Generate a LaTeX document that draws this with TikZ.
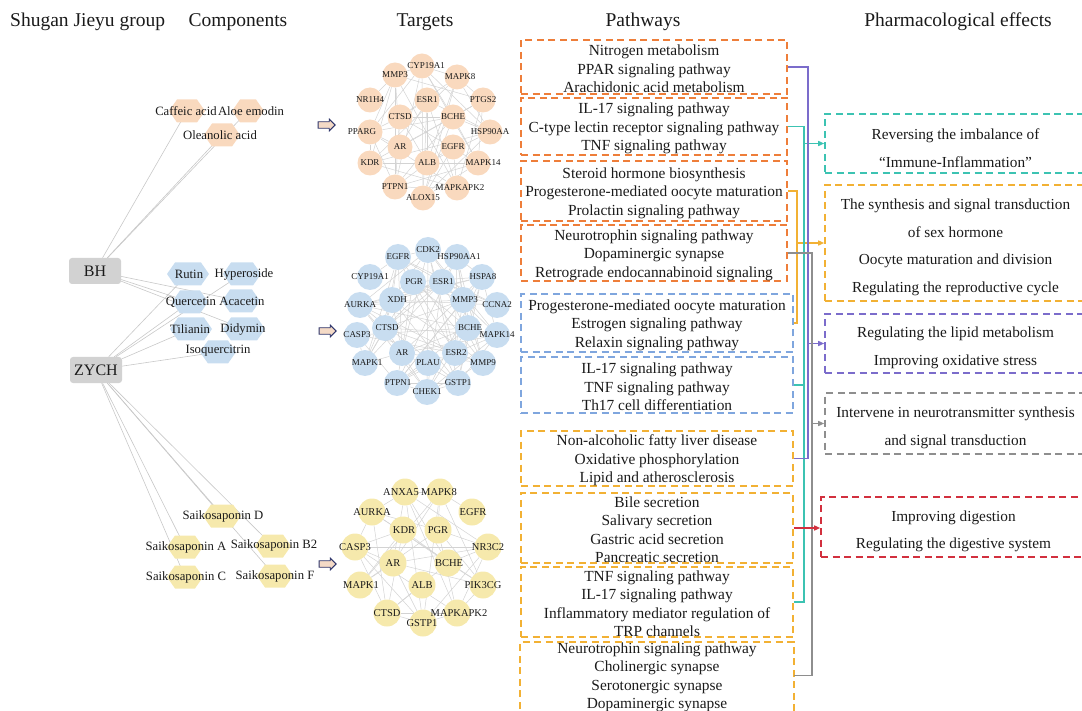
\documentclass[tikz,border=0pt]{standalone}
\usepackage{fontspec}
\setmainfont{Liberation Serif}
\usetikzlibrary{arrows.meta,shapes.arrows,backgrounds}

% palette
\definecolor{peach}{HTML}{F9D9BE}
\definecolor{skyb}{HTML}{C8DDF0}
\definecolor{straw}{HTML}{F6E9AC}
\definecolor{boxorange}{HTML}{EE7E3A}
\definecolor{boxblue}{HTML}{7FA6DE}
\definecolor{boxgold}{HTML}{F2B134}
\definecolor{lnteal}{HTML}{3CC3B2}
\definecolor{lnpurple}{HTML}{7B6CCB}
\definecolor{lngray}{HTML}{8E8E8E}
\definecolor{lnred}{HTML}{D2303E}
\definecolor{netgray}{HTML}{D3D3D3}
\definecolor{hubline}{HTML}{C8C8C8}
\definecolor{hubgray}{HTML}{D2D2D2}
\definecolor{arrowfill}{HTML}{F4DAC6}
\definecolor{arrowline}{HTML}{2E356B}
\definecolor{ink}{HTML}{1A1A1A}

\newcommand\fsz[2]{\fontsize{#1}{#2}\selectfont}
% tall first-line struts that lower a text block a little inside its box
\newcommand\boxlift{\rule{0pt}{14.5pt}}
\newcommand\efflift{\rule{0pt}{19.5pt}}

% flat-topped hexagon centred at (#1,#2), half width #3, fill #4
\newcommand\hexat[4]{\fill[#4] (#1,#2) ++(-#3,0) -- ++(8,-11.5) -- ++({2*#3-16},0) -- ++(8,11.5) -- ++(-8,11.5) -- ++({16-2*#3},0) -- cycle;}
% compound: name, hexagon centre x/y, half width, colour, label x/y, text
\newcommand\comp[8]{\coordinate (#1) at (#2,#3); \hexat{#2}{#3}{#4}{#5} \node[complabel] (#1-t) at (#6,#7) {#8};}

% target networks: index/x/y/label/label shift
\def\netA{1/422/66/CYP19A1/4,2/395/75/MMP3/0,3/457/77/MAPK8/3,4/370/100/NR1H4/0,5/427/100/ESR1/0,6/483/100/PTGS2/0,7/400/117/CTSD/0,8/453/117/BCHE/0,9/370/132/PPARG/-8,10/490/132/HSP90AA/0,11/400/147/AR/0,12/453/147/EGFR/0,13/370/163/KDR/0,14/427/163/ALB/0,15/478/163/MAPK14/5,16/395/187/PTPN1/0,17/423/198/ALOX15/0,18/457/188/MAPKAPK2/3}
\def\netB{1/428/250/CDK2/0,2/398/257/EGFR/0,3/457/257/HSP90AA1/2,4/370/277/CYP19A1/0,5/413/282/PGR/1,6/442/282/ESR1/1,7/482/277/HSPA8/1,8/360/305/AURKA/0,9/392/300/XDH/5,10/463/300/MMP3/2,11/497/305/CCNA2/0,12/357/335/CASP3/0,13/385/328/CTSD/2,14/468/328/BCHE/2,15/497/335/MAPK14/0,16/402/353/AR/0,17/455/353/ESR2/1,18/365/363/MAPK1/2,19/428/363/PLAU/0,20/483/363/MMP9/0,21/397/383/PTPN1/1,22/427/392/CHEK1/0,23/458/383/GSTP1/0}
\def\netC{1/405/492/ANXA5/-4,2/440/492/MAPK8/-1,3/372/512/AURKA/0,4/472/512/EGFR/1,5/403/530/KDR/1,6/438/530/PGR/0,7/355/547/CASP3/0,8/488/547/NR3C2/0,9/393/563/AR/0,10/448/563/BCHE/1,11/360/585/MAPK1/1,12/422/585/ALB/0,13/483/585/PIK3CG/0,14/387/613/CTSD/0,15/457/613/MAPKAPK2/2,16/423/623/GSTP1/-1}

% network: list, prefix, node count, circle style, label style
\newcommand\network[5]{%
  \foreach \idx/\px/\py/\lab/\dx in #1 {\node[#4] (#2n\idx) at (\px,\py) {};}
  \foreach \idx/\px/\py/\lab/\dx in #1 {\node[#5, xshift=\dx pt] (#2t\idx) at (\px,\py) {\lab};}
  \begin{pgfonlayer}{background}
    \foreach \i in {1,...,#3}{\foreach \j in {1,...,#3}{%
      \ifnum\i<\j\relax
        \pgfmathtruncatemacro\k{mod(\i*\j*5+\i*3+\j,7)}%
        \ifnum\k<3\relax \draw[netedge] (#2n\i) -- (#2n\j);\fi
      \fi}}
  \end{pgfonlayer}}

\tikzset{
  header/.style={font=\fsz{19.5}{23}, text=ink, anchor=base, inner sep=0pt},
  hub/.style={fill=hubgray, rounded corners=3pt, minimum width=52pt, minimum height=26pt, inner sep=0pt, font=\fsz{16}{19}, text=ink},
  hubedge/.style={draw=hubline, line width=0.6pt},
  complabel/.style={font=\fsz{12.7}{15}, text=ink, inner sep=0pt},
  netedge/.style={draw=netgray, line width=0.5pt},
  dotA/.style={circle, fill=peach, minimum size=25pt, inner sep=0pt},
  dotB/.style={circle, fill=skyb, minimum size=26pt, inner sep=0pt},
  dotC/.style={circle, fill=straw, minimum size=27pt, inner sep=0pt},
  tlabS/.style={font=\fsz{9}{10}, text=ink, inner sep=0pt},
  tlabL/.style={font=\fsz{10.5}{12}, text=ink, inner sep=0pt},
  hollowarrow/.style={single arrow, draw=arrowline, fill=arrowfill, line width=0.9pt, minimum height=17pt, single arrow head extend=2.6pt, inner xsep=0pt, inner ysep=2.8pt},
  dashline/.style={draw=#1, line width=1.6pt, dash pattern=on 7pt off 4.5pt},
  pathbox/.style={dashline=#1, inner sep=0pt, align=center, font=\fsz{15.4}{18.5}, text=ink},
  effbox/.style={dashline=#1, inner sep=0pt, align=center, font=\fsz{15.3}{27.7}, text=ink, minimum width=261pt},
  conn/.style={draw=#1, line width=1.4pt},
  arrowend/.style={-{Triangle[length=6pt,width=5pt]}}
}

\begin{document}
\begin{tikzpicture}[x=1pt,y=-1pt]
\useasboundingbox (0,0) rectangle (1082,711);

% column headers
\node[header, anchor=base west] (hgroup) at (10,27) {Shugan Jieyu group};
\node[header] (hcomp) at (238,27) {Components};
\node[header] (htarg) at (425,27) {Targets};
\node[header] (hpath) at (643,27) {Pathways};
\node[header] (heff) at (958,27) {Pharmacological effects};

% herb groups
\node[hub] (bh) at (95,271) {BH};
\node[hub] (zych) at (96,370) {ZYCH};

% compounds
\comp{caff}{187}{111}{18}{peach}{186}{111}{Caffeic acid}
\comp{aloe}{248}{111}{16}{peach}{251}{111}{Aloe emodin}
\comp{olean}{222}{135}{18}{peach}{220}{135}{Oleanolic acid}
\comp{rutin}{188}{274}{21}{skyb}{189}{274}{Rutin}
\comp{hyper}{242}{274}{19}{skyb}{244}{274}{Hyperoside}
\comp{querc}{190}{302}{18}{skyb}{191}{302}{Quercetin}
\comp{acac}{241}{301}{19}{skyb}{242}{301}{Acacetin}
\comp{tilia}{191}{329}{21}{skyb}{190}{329}{Tilianin}
\comp{didy}{244}{329}{21}{skyb}{243}{329}{Didymin}
\comp{isoq}{218}{352}{18}{skyb}{218}{351}{Isoquercitrin}
\comp{sapD}{222}{516}{19}{straw}{223}{516}{Saikosaponin D}
\comp{sapA}{185}{547}{18}{straw}{186}{547}{Saikosaponin A}
\comp{sapB}{273}{546}{18}{straw}{274}{545}{Saikosaponin B2}
\comp{sapC}{185}{577}{18}{straw}{186}{577}{Saikosaponin C}
\comp{sapF}{275}{576}{18}{straw}{275}{576}{Saikosaponin F}

\begin{pgfonlayer}{background}
  \foreach \c in {caff,aloe,olean,querc,acac,didy} \draw[hubedge] (bh) -- (\c);
  \foreach \c in {rutin,hyper,querc,tilia,isoq,sapD,sapA,sapB,sapC,sapF} \draw[hubedge] (zych) -- (\c);
\end{pgfonlayer}

% compound -> target arrows
\node[hollowarrow] (ar1) at (325,125) {};
\node[hollowarrow] (ar2) at (326,331) {};
\node[hollowarrow] (ar3) at (326,564) {};

% target networks
\network{\netA}{c1}{18}{dotA}{tlabS}
\network{\netB}{c2}{23}{dotB}{tlabS}
\network{\netC}{c3}{16}{dotC}{tlabL}

% pathway boxes
\node[pathbox=boxorange, minimum width=266pt, minimum height=54pt] (p1) at (654,67) {\boxlift Nitrogen metabolism\\PPAR signaling pathway\\Arachidonic acid metabolism};
\node[pathbox=boxorange, minimum width=266pt, minimum height=57pt] (p2) at (654,126.5) {\boxlift IL-17 signaling pathway\\C-type lectin receptor signaling pathway\\TNF signaling pathway};
\node[pathbox=boxorange, minimum width=266pt, minimum height=60pt] (p3) at (654,191) {\boxlift Steroid hormone biosynthesis\\Progesterone-mediated oocyte maturation\\Prolactin signaling pathway};
\node[pathbox=boxorange, minimum width=266pt, minimum height=56pt] (p4) at (654,253) {\boxlift Neurotrophin signaling pathway\\Dopaminergic synapse\\Retrograde endocannabinoid signaling};
\node[pathbox=boxblue, minimum width=272pt, minimum height=58pt] (b1) at (657,323) {\boxlift Progesterone-mediated oocyte maturation\\Estrogen signaling pathway\\Relaxin signaling pathway};
\node[pathbox=boxblue, minimum width=272pt, minimum height=56pt] (b2) at (657,385) {\boxlift IL-17 signaling pathway\\TNF signaling pathway\\Th17 cell differentiation};
\node[pathbox=boxgold, minimum width=272pt, minimum height=55pt] (y1) at (657,458.5) {\boxlift Non-alcoholic fatty liver disease\\Oxidative phosphorylation\\Lipid and atherosclerosis};
\node[pathbox=boxgold, minimum width=272pt, minimum height=70pt] (y2) at (657,528) {\boxlift Bile secretion\\Salivary secretion\\Gastric acid secretion\\Pancreatic secretion};
\node[pathbox=boxgold, minimum width=272pt, minimum height=68pt] (y3) at (657,602) {\boxlift TNF signaling pathway\\IL-17 signaling pathway\\Inflammatory mediator regulation of\\TRP channels};
\node[pathbox=boxgold, draw=none, minimum width=272pt] (y4) at (657,675.5) {\boxlift Neurotrophin signaling pathway\\Cholinergic synapse\\Serotonergic synapse\\Dopaminergic synapse};
\draw[dashline=boxgold] (y4.west |- 0,720) -- (y4.west |- 0,642) -- (y4.east |- 0,642) -- (y4.east |- 0,720);

% effect boxes
\node[effbox=lnteal, minimum height=59pt] (e1) at (955.5,143.5) {\efflift Reversing the imbalance of\\“Immune-Inflammation”};
\node[effbox=boxgold, minimum height=116pt] (e2) at (955.5,243) {\efflift The synthesis and signal transduction\\of sex hormone\\Oocyte maturation and division\\Regulating the reproductive cycle};
\node[effbox=lnpurple, minimum height=59pt] (e3) at (955.5,343.5) {\efflift Regulating the lipid metabolism\\Improving oxidative stress};
\node[effbox=lngray, minimum height=61pt] (e4) at (955.5,423.5) {\efflift Intervene in neurotransmitter synthesis\\and signal transduction};
\node[effbox=lnred, minimum width=265pt, minimum height=60pt] (e5) at (953.5,527) {\efflift Improving digestion\\Regulating the digestive system};

% bus lines from pathways to effects
\coordinate (vo) at (797,0);
\coordinate (vt) at (804,0);
\coordinate (vp) at (808,0);
\coordinate (vg) at (812,0);

\draw[conn=boxgold] (p3.east) -| (vo |- b1.east) -- (b1.east);
\draw[conn=boxgold, arrowend] (vo |- e2.west) -- (e2.west);

\draw[conn=lnteal] (p2.east) -| (vt |- y3.east) -- (y3.east);
\draw[conn=lnteal] (b2.east) -- (vt |- b2.east);
\draw[conn=lnteal, arrowend] (vt |- e1.west) -- (e1.west);

\draw[conn=lnpurple] (p1.east) -| (vp |- y1.east) -- (y1.east);
\draw[conn=lnpurple, arrowend] (vp |- e3.west) -- (e3.west);

\draw[conn=lngray] (p4.east) -| (vg |- y4.east) -- (y4.east);
\draw[conn=lngray, arrowend] (vg |- e4.west) -- (e4.west);

\draw[conn=lnred, arrowend] (y2.east) -- (y2.east -| e5.west);
\end{tikzpicture}
\end{document}
